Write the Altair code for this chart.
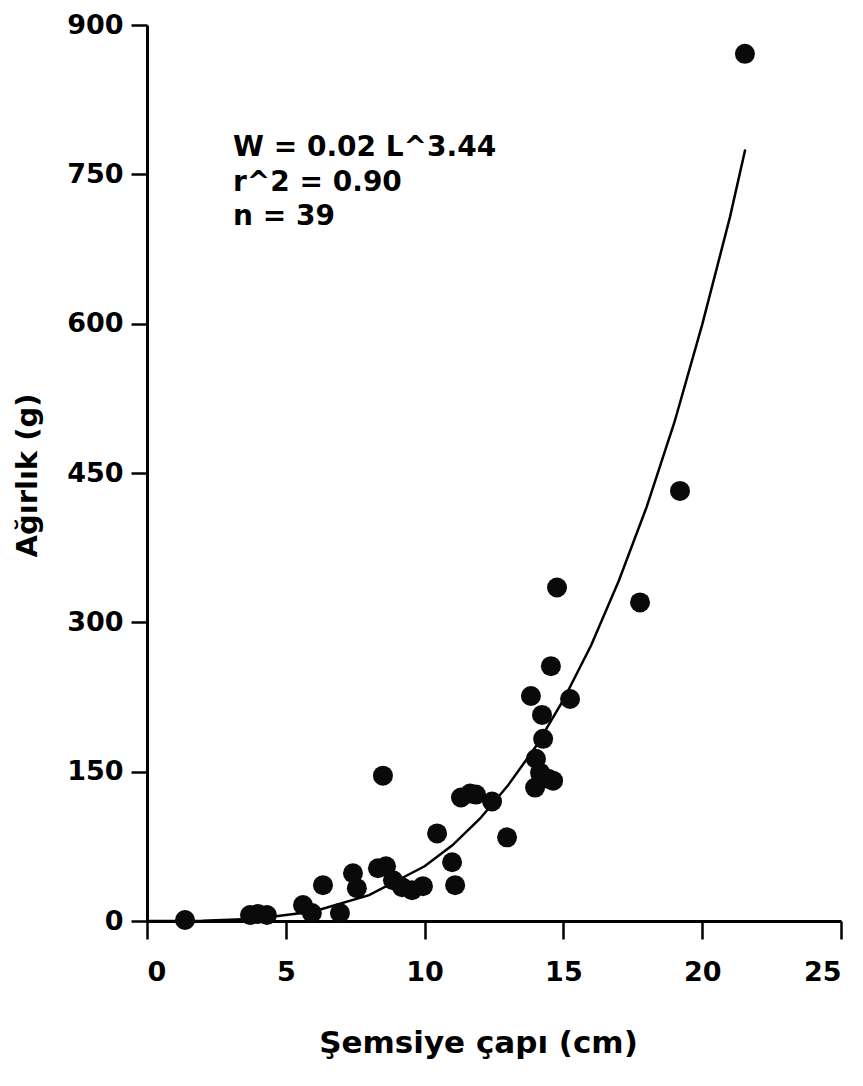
import altair as alt
import pandas as pd

# Scatter data: umbrella diameter (cm) and weight (g)
diam = [1.37, 3.71, 4.00, 4.32, 5.62, 5.94, 6.34, 6.95, 7.42, 7.56,
        8.32, 8.61, 8.50, 8.86, 9.19, 9.55, 9.94, 10.45, 10.99, 11.10,
        11.31, 11.64, 11.85, 12.43, 12.97, 13.83, 14.55, 15.24, 14.23, 14.27,
        14.01, 14.16, 14.45, 14.63, 13.98, 14.77, 17.76, 19.20, 21.54]
weight = [1, 6, 7, 6, 16, 8, 36, 8, 48, 33,
          53, 55, 146, 41, 34, 31, 35, 88, 59, 36,
          124, 128, 127, 120, 84, 226, 256, 223, 207, 183,
          163, 149, 143, 141, 134, 335, 320, 432, 871]

# Fitted curve W = 0.02 L^3.44
curve_L = [0, 2, 4, 6, 8, 10, 11, 12, 13, 14, 15, 16, 17, 18, 19, 20, 21, 21.55]
curve_W = [0, 0.2, 2.4, 9.5, 26, 55, 76, 103, 136, 175, 222, 277, 342, 416, 501, 599, 707, 775]

# Annotation text lines
ann_text = ["W = 0.02 L^3.44", "r^2 = 0.90", "n = 39"]
ann_x = [3.1, 3.1, 3.1]
ann_y = [768, 733, 699]

x_ticks = [0, 5, 10, 15, 20, 25]
y_ticks = [0, 150, 300, 450, 600, 750, 900]

pts = pd.DataFrame({"L": diam, "W": weight})
crv = pd.DataFrame({"L": curve_L, "W": curve_W})
ann = pd.DataFrame({"t": ann_text, "L": ann_x, "W": ann_y})

xscale = alt.Scale(domain=[0, 25], nice=False, zero=False)
yscale = alt.Scale(domain=[0, 900], nice=False, zero=False)

xaxis = alt.Axis(
    title="Şemsiye çapı (cm)", values=x_ticks, grid=False,
    tickSize=18, labelPadding=20,
    titleX=331, titleY=131, titleBaseline="alphabetic", titleAlign="center",
    titleFontSize=31,
)
yaxis = alt.Axis(
    title="Ağırlık (g)", values=y_ticks, grid=False,
    tickSize=16, labelPadding=8,
    titleX=-120, titleY=450, titleAngle=-90, titleAlign="center",
    titleBaseline="middle", titleFontSize=29,
)

line = alt.Chart(crv).mark_line(color="#000000", strokeWidth=2.5).encode(
    x=alt.X("L:Q", scale=xscale, axis=xaxis),
    y=alt.Y("W:Q", scale=yscale, axis=yaxis),
)

points = alt.Chart(pts).mark_circle(color="#0a0a0a", opacity=1, size=400).encode(
    x=alt.X("L:Q", scale=xscale),
    y=alt.Y("W:Q", scale=yscale),
)

text = alt.Chart(ann).mark_text(
    align="left", baseline="alphabetic", font="DejaVu Sans",
    fontSize=28, fontWeight="bold", color="#000000",
).encode(
    x=alt.X("L:Q", scale=xscale),
    y=alt.Y("W:Q", scale=yscale),
    text="t:N",
)

chart = alt.layer(line, points, text).properties(
    width=694, height=896,
    autosize=alt.AutoSizeParams(type="none"),
    padding={"left": 139, "top": 17, "right": 14, "bottom": 150},
    background="white",
).configure_view(stroke=None).configure_axis(
    domainColor="#000000", domainWidth=3,
    tickColor="#000000", tickWidth=2.5,
    labelFont="DejaVu Sans", labelFontWeight="bold", labelFontSize=27,
    labelColor="#000000",
    titleFont="DejaVu Sans", titleFontWeight="bold", titleColor="#000000",
)

chart.save("out.html", embed_options={"renderer": "svg", "actions": False})
